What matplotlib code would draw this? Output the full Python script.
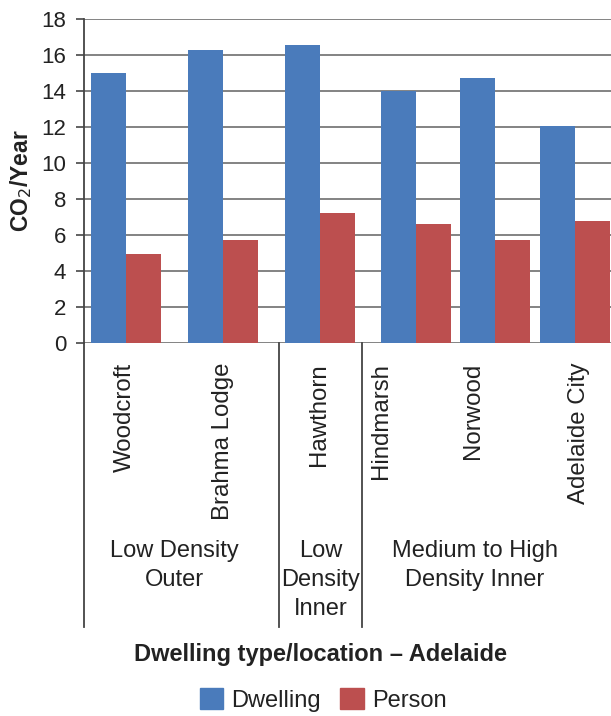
import matplotlib
matplotlib.use("Agg")
import matplotlib.pyplot as plt
from matplotlib.transforms import blended_transform_factory
from matplotlib.patches import Patch
from matplotlib.lines import Line2D

plt.rcParams['font.family'] = ['Liberation Sans', 'DejaVu Sans']

# Data
suburbs = ["Woodcroft", "Brahma Lodge", "Hawthorn", "Hindmarsh", "Norwood", "Adelaide City"]
dwelling = [15.0, 16.28, 16.56, 14.0, 14.72, 12.05]
person = [4.95, 5.72, 7.22, 6.61, 5.72, 6.78]
groups = ["Low Density\nOuter", "Low\nDensity\nInner", "Medium to High\nDensity Inner"]
yticks = [0, 2, 4, 6, 8, 10, 12, 14, 16, 18]

# Layout (x in category units)
centers = [0.433, 1.433, 2.433, 3.423, 4.237, 5.062]
label_x = [0.423, 1.433, 2.423, 3.067, 4.010, 5.103]
separators = [0.0, 2.010, 2.866]
group_x = [0.928, 2.443, 4.031]
bar_w = 0.361

BLUE = "#4A7BBB"
RED = "#BC4F4F"
GRID = "#7a7a7a"
TXT = "#222222"

W, H = 611, 716
fig = plt.figure(figsize=(W / 100, H / 100), dpi=100)
ax = fig.add_axes([84 / W, (H - 343) / H, (W - 84) / W, 324 / H])

ax.bar([c - bar_w / 2 for c in centers], dwelling, width=bar_w, color=BLUE, zorder=3)
ax.bar([c + bar_w / 2 for c in centers], person, width=bar_w, color=RED, zorder=3)

ax.set_xlim(0, 527 / 97)
ax.set_ylim(0, 18)
ax.set_yticks(yticks)
ax.set_xticks([])
ax.yaxis.grid(True, color=GRID, linewidth=1.3)
ax.set_axisbelow(True)
ax.tick_params(axis='y', length=5.8, width=1.3, color="#555555", labelsize=16,
               labelcolor=TXT, pad=7)
for s in ["top", "right", "bottom"]:
    ax.spines[s].set_visible(False)
ax.spines["left"].set_color("#444444")
ax.spines["left"].set_linewidth(1.3)

ax.set_ylabel("CO$_2$/Year", fontsize=16.5, fontweight='bold', color=TXT, labelpad=5)

# Category separators below the axis
trans_ax = blended_transform_factory(ax.transData, ax.transAxes)
depth = (627 - 343) / 324
for sx in separators:
    ax.add_line(Line2D([sx, sx], [0, -depth], transform=trans_ax, color="#444444",
                       linewidth=1.3, clip_on=False))

trans_fig = blended_transform_factory(ax.transData, fig.transFigure)
for x, name in zip(label_x, suburbs):
    ax.text(x, 1 - 363 / H, name, transform=trans_fig, rotation=90, ha='center', va='top',
            fontsize=17.3, color=TXT, clip_on=False)

for x, g in zip(group_x, groups):
    ax.text(x, 1 - 540 / H, g, transform=trans_fig, ha='center', va='top',
            fontsize=17, color=TXT, linespacing=1.4, clip_on=False)

fig.text(321 / W, 1 - 654 / H, "Dwelling type/location – Adelaide", ha='center', va='center',
         fontsize=17, fontweight='bold', color=TXT)

handles = [Patch(color=BLUE, label="Dwelling"), Patch(color=RED, label="Person")]
fig.legend(handles=handles, loc='center', bbox_to_anchor=(323 / W, 1 - 700 / H), ncol=2,
           frameon=False, fontsize=17, handlelength=1.0, handleheight=1.0,
           handletextpad=0.35, columnspacing=0.8, labelcolor=TXT)

fig.savefig("out.png", dpi=100)
